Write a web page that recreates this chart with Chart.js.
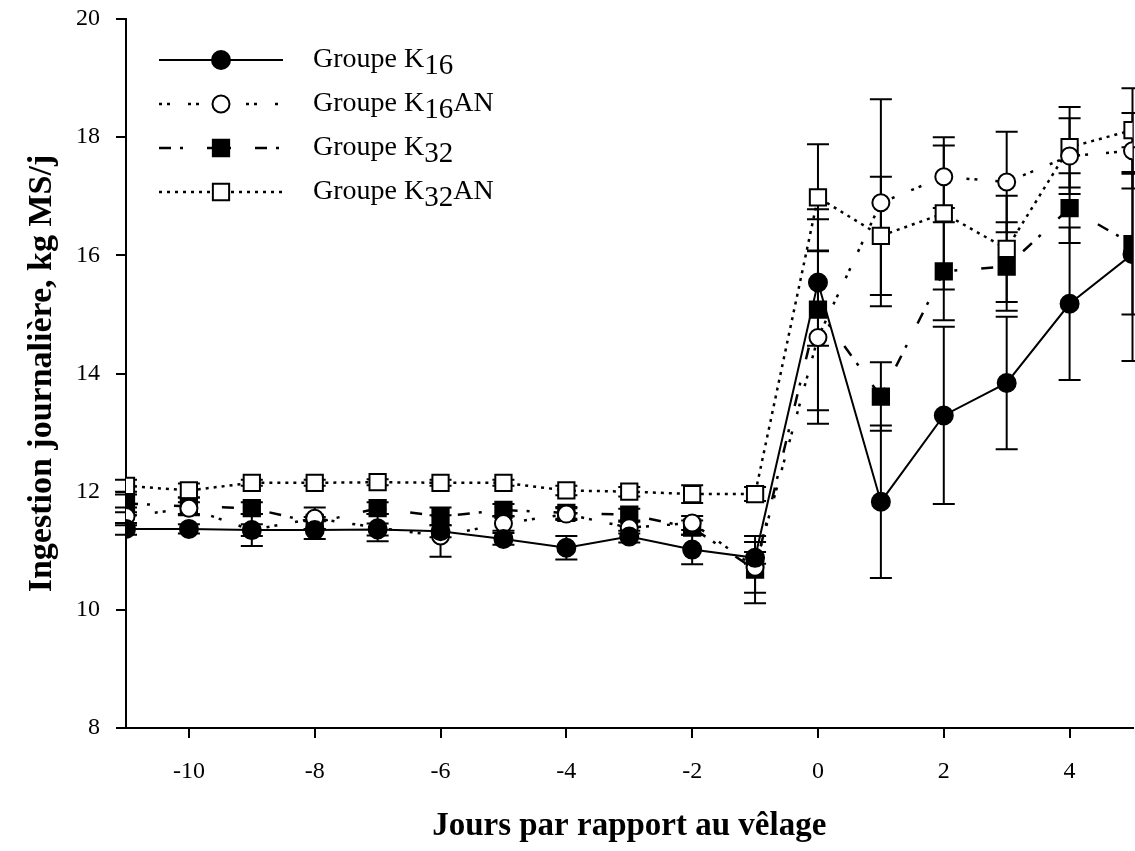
<!DOCTYPE html>
<html lang="fr">
<head>
<meta charset="UTF-8">
<title>Ingestion journalière</title>
<style>
  html, body { margin: 0; padding: 0; background: #fff; overflow: hidden; }
  #chart { display: block; }
</style>
</head>
<body>
<!-- a bit wider than the window so the last day sits on the right edge -->
<canvas id="chart" width="1146" height="851"></canvas>
<script src="https://cdn.jsdelivr.net/npm/chart.js@4.4.1/dist/chart.umd.min.js"></script>
<script>
// days relative to calving
const days = [-11, -10, -9, -8, -7, -6, -5, -4, -3, -2, -1, 0, 1, 2, 3, 4, 5];
const xTicks = [-10, -8, -6, -4, -2, 0, 2, 4];

// mean daily intake (kg MS/j) and standard errors per group
const k16 = [11.37, 11.37, 11.35, 11.35, 11.36, 11.33, 11.20, 11.05, 11.24, 11.02, 10.88, 15.54, 11.83, 13.29, 13.84, 15.18, 16.02];
const k16Err = [0.1, 0.08, 0.1, 0.15, 0.1, 0.1, 0.1, 0.2, 0.1, 0.25, 0.1, 1.07, 1.29, 1.5, 1.12, 1.29, 1.81];

const k16AN = [11.58, 11.72, 11.35, 11.55, 11.39, 11.25, 11.46, 11.62, 11.39, 11.47, 10.72, 14.61, 16.89, 17.33, 17.24, 17.68, 17.77];
const k16ANErr = [0.15, 0.1, 0.27, 0.18, 0.23, 0.35, 0.12, 0.1, 0.1, 0.12, 0.43, 1.46, 1.75, 0.53, 0.85, 0.64, 0.64];

const k32 = [11.80, 11.75, 11.72, 11.47, 11.72, 11.58, 11.69, 11.64, 11.61, 11.39, 10.68, 15.08, 13.61, 15.73, 15.81, 16.80, 16.19];
const k32Err = [0.15, 0.15, 0.1, 0.1, 0.1, 0.15, 0.1, 0.1, 0.1, 0.12, 0.57, 1.7, 0.58, 0.83, 0.75, 0.59, 1.19];

const k32AN = [12.10, 12.02, 12.15, 12.15, 12.16, 12.15, 12.15, 12.02, 12.00, 11.96, 11.96, 16.98, 16.33, 16.71, 16.11, 17.83, 18.12];
const k32ANErr = [0.1, 0.12, 0.05, 0.05, 0.05, 0.05, 0.05, 0.08, 0.08, 0.15, 0.12, 0.9, 1.0, 1.29, 0.9, 0.68, 0.71];

// legend text pieces: main text, subscript, trailing text
const legendParts = [
  ['Groupe K', '16', ''],
  ['Groupe K', '16', 'AN'],
  ['Groupe K', '32', ''],
  ['Groupe K', '32', 'AN']
];

const serif = '"Liberation Serif", "Times New Roman", serif';

function points(values) {
  return days.map((d, i) => ({ x: d, y: values[i] }));
}

function makeSet(label, values, errors, style) {
  return Object.assign({
    label: label,
    data: points(values),
    errors: errors,
    borderColor: '#000',
    borderWidth: 2,
    pointBorderColor: '#000',
    pointBorderWidth: 2,
    pointHoverRadius: 0,
    tension: 0,
    fill: false
  }, style);
}

// vertical error bars with caps, drawn below the markers
const errorBars = {
  id: 'errorBars',
  beforeDatasetsDraw(chart) {
    const ctx = chart.ctx;
    const yScale = chart.scales.y;
    ctx.save();
    ctx.strokeStyle = '#000';
    ctx.lineWidth = 2;
    ctx.setLineDash([]);
    chart.data.datasets.forEach((ds, i) => {
      const meta = chart.getDatasetMeta(i);
      meta.data.forEach((pt, j) => {
        const v = ds.data[j].y;
        const e = ds.errors[j];
        const top = yScale.getPixelForValue(v + e);
        const bot = yScale.getPixelForValue(v - e);
        const x = pt.x;
        ctx.beginPath();
        ctx.moveTo(x, top); ctx.lineTo(x, bot);
        ctx.moveTo(x - 11, top); ctx.lineTo(x + 11, top);
        ctx.moveTo(x - 11, bot); ctx.lineTo(x + 11, bot);
        ctx.stroke();
      });
    });
    ctx.restore();
  }
};

function drawMarker(ctx, ds, x, y) {
  ctx.fillStyle = ds.pointBackgroundColor;
  ctx.strokeStyle = '#000';
  ctx.lineWidth = 2;
  ctx.beginPath();
  if (ds.pointStyle === 'rect') {
    const s = ds.pointRadius * Math.SQRT1_2;
    ctx.rect(x - s, y - s, 2 * s, 2 * s);
  } else {
    ctx.arc(x, y, ds.pointRadius, 0, Math.PI * 2);
  }
  ctx.fill();
  ctx.stroke();
}

// legend in the upper left corner, with subscripts
const legendBox = {
  id: 'legendBox',
  afterDraw(chart) {
    const ctx = chart.ctx;
    chart.data.datasets.forEach((ds, i) => {
      const rowY = 60 + i * 44;
      ctx.save();
      ctx.strokeStyle = '#000';
      ctx.lineWidth = ds.borderWidth;
      ctx.setLineDash(ds.borderDash || []);
      ctx.beginPath();
      ctx.moveTo(159, rowY);
      ctx.lineTo(283, rowY);
      ctx.stroke();
      ctx.setLineDash([]);
      drawMarker(ctx, ds, 221, rowY);

      const [main, sub, tail] = legendParts[i];
      ctx.fillStyle = '#000';
      ctx.textBaseline = 'alphabetic';
      ctx.font = '28px ' + serif;
      let x = 313;
      const base = rowY + 7;
      ctx.fillText(main, x, base);
      x += ctx.measureText(main).width;
      ctx.font = '29px ' + serif;
      ctx.fillText(sub, x, base + 7);
      x += ctx.measureText(sub).width;
      ctx.font = '28px ' + serif;
      ctx.fillText(tail, x, base);
      ctx.restore();
    });
  }
};

const ctx = document.getElementById('chart').getContext('2d');

new Chart(ctx, {
  type: 'line',
  data: {
    datasets: [
      makeSet('Groupe K16', k16, k16Err, {
        pointStyle: 'circle', pointRadius: 9, pointBackgroundColor: '#000'
      }),
      makeSet('Groupe K16AN', k16AN, k16ANErr, {
        pointStyle: 'circle', pointRadius: 8.5, pointBackgroundColor: '#fff',
        borderWidth: 2.5, borderDash: [3, 5, 3, 18]
      }),
      makeSet('Groupe K32', k32, k32Err, {
        pointStyle: 'rect', pointRadius: 11.5, pointBackgroundColor: '#000',
        borderWidth: 2.5, borderDash: [12, 9, 3, 24]
      }),
      makeSet('Groupe K32AN', k32AN, k32ANErr, {
        pointStyle: 'rect', pointRadius: 11.5, pointBackgroundColor: '#fff',
        borderWidth: 2.5, borderDash: [3, 5]
      })
    ]
  },
  options: {
    responsive: false,
    animation: false,
    events: [],
    layout: { padding: { top: 19, right: 2, bottom: 0, left: 0 } },
    plugins: {
      legend: { display: false },
      tooltip: { enabled: false }
    },
    scales: {
      x: {
        type: 'linear',
        min: -11,
        max: 5,
        afterBuildTicks(scale) {
          scale.ticks = xTicks.map(v => ({ value: v }));
        },
        afterFit(scale) {
          scale.height = 123;
          scale.paddingLeft = 0;
          scale.paddingRight = 0;
        },
        border: { display: true, color: '#000', width: 2 },
        grid: { drawOnChartArea: false, drawTicks: true, tickLength: 10, color: '#000', lineWidth: 2 },
        ticks: {
          color: '#000',
          padding: 19,
          maxRotation: 0,
          font: { family: serif, size: 24 }
        },
        title: {
          display: true,
          text: 'Jours par rapport au vêlage',
          color: '#000',
          font: { family: serif, size: 33, weight: 'bold' },
          padding: { top: 0, bottom: 5 }
        }
      },
      y: {
        min: 8,
        max: 20,
        afterFit(scale) {
          scale.width = 126;
          scale.paddingTop = 0;
          scale.paddingBottom = 0;
        },
        border: { display: true, color: '#000', width: 2 },
        grid: { drawOnChartArea: false, drawTicks: true, tickLength: 10, color: '#000', lineWidth: 2 },
        ticks: {
          stepSize: 2,
          color: '#000',
          padding: 16,
          font: { family: serif, size: 24 }
        },
        title: {
          display: true,
          text: 'Ingestion journalière, kg MS/j',
          color: '#000',
          font: { family: serif, size: 34, weight: 'bold' },
          padding: { top: 22, bottom: 0 }
        }
      }
    }
  },
  plugins: [errorBars, legendBox]
});
</script>
</body>
</html>
